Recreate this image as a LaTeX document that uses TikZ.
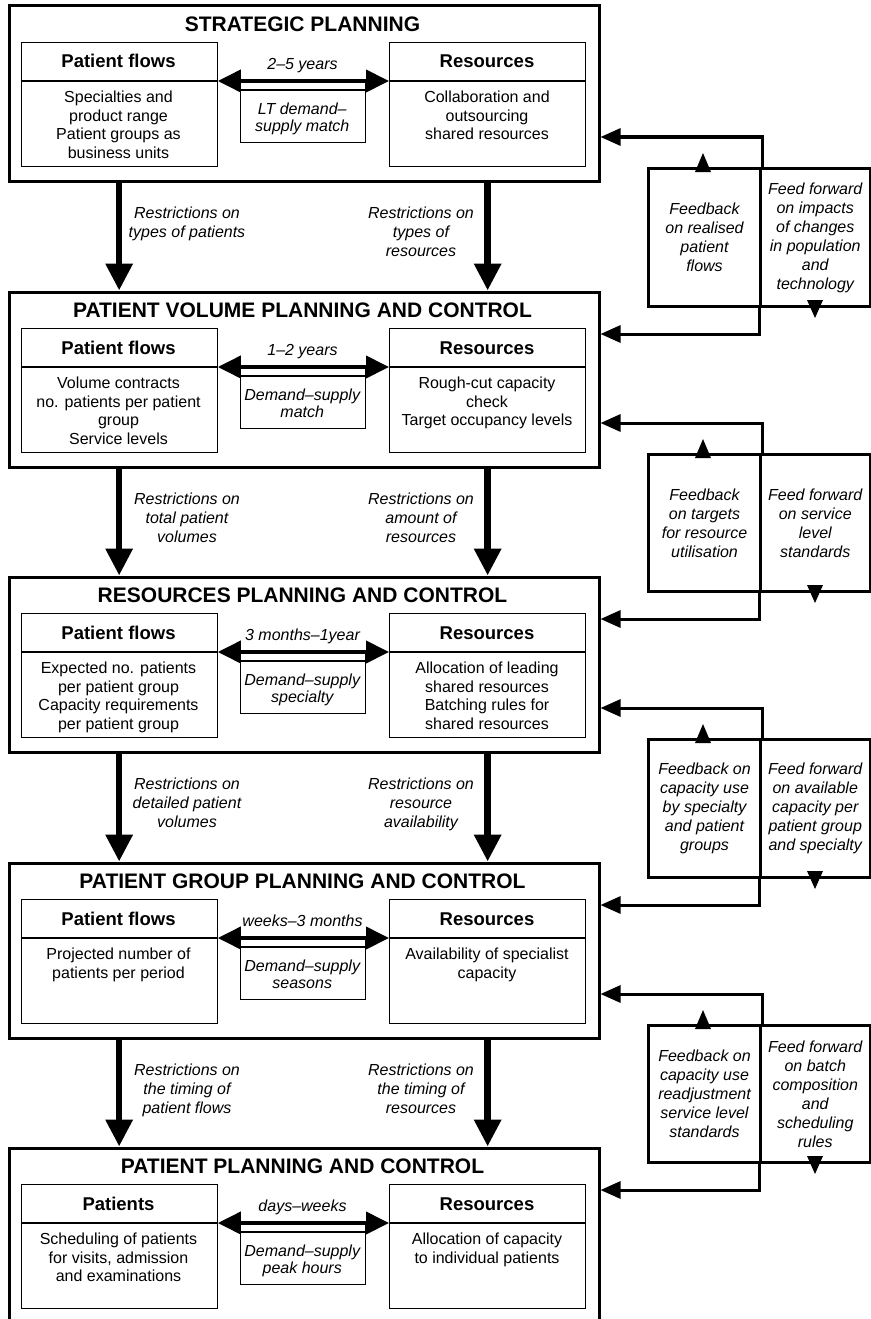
\documentclass[tikz,border=0pt]{standalone}
\usepackage{fontspec}
\setmainfont{Liberation Sans}
\usetikzlibrary{arrows.meta}

\tikzset{
  outerbox/.style={draw, line width=3pt, inner sep=0pt, anchor=north west},
  innerbox/.style={draw, line width=1.3pt, inner sep=0pt, anchor=north west},
  sepline/.style={line width=1.3pt},
  titletext/.style={font=\fontsize{21}{24}\selectfont\bfseries, anchor=base, inner sep=0pt},
  headtext/.style={font=\fontsize{18.5}{22}\selectfont\bfseries, anchor=base, inner sep=0pt},
  bodytext/.style={font=\fontsize{16}{18.5}\selectfont, align=center, anchor=north, inner sep=0pt,
    execute at begin node={\rule{0pt}{12pt}}},
  midtext/.style={font=\fontsize{16}{17.5}\selectfont\itshape, align=center, anchor=north, inner sep=0pt,
    execute at begin node={\rule{0pt}{12pt}}},
  periodtext/.style={font=\fontsize{16}{19}\selectfont\itshape, anchor=base, inner sep=0pt},
  lbl/.style={font=\fontsize{16}{19}\selectfont\itshape, align=center, anchor=north, inner sep=0pt,
    execute at begin node={\rule{0pt}{12pt}}},
  span/.style={line width=4pt, {Triangle[length=23pt,width=22pt]}-{Triangle[length=23pt,width=22pt]}},
  downarrow/.style={line width=6.5pt, -{Triangle[length=27pt,width=26pt]}},
  fbbox/.style={draw, line width=3pt, inner sep=0pt, anchor=north west, align=center,
    font=\fontsize{16}{19}\selectfont\itshape},
  fbarrow/.style={line width=3pt, -{Triangle[length=20pt,width=17pt]}},
}

% One planning level: #1 name, #2 top, #3 title, #4 left header,
% #5 left body, #6 right body, #7 horizon, #8 demand-supply text
\newcommand{\plevel}[8]{%
  \begin{scope}[shift={(0,#2)}]
    \node[outerbox, minimum width=590pt, minimum height=\lvlh pt] (#1) at (7.5,0.5) {};
    \node[titletext] (#1-title) at (302.5,27.5) {#3};
    \node[innerbox, minimum width=196pt, minimum height=124pt] (#1-pf) at (20.5,38) {};
    \node[innerbox, minimum width=196pt, minimum height=124pt] (#1-rs) at (389,38) {};
    \draw[sepline] (20.5,77) -- (216.5,77);
    \draw[sepline] (389,77) -- (585,77);
    \node[headtext] (#1-pfh) at (118.5,64) {#4};
    \node[headtext] (#1-rsh) at (487,64) {Resources};
    \node[bodytext] (#1-pfb) at (118.5,86.8) {#5};
    \node[bodytext] (#1-rsb) at (487,86.8) {#6};
    \node[innerbox, minimum width=124.5pt, minimum height=61pt] (#1-mid) at (240,77) {};
    \draw[sepline] (240,86) -- (364.5,86);
    \node[midtext] (#1-midt) at (302.25,98.5) {#8};
    \node[periodtext] (#1-per) at (302.5,65.3) {#7};
    \draw[span] (#1-pf.east |- #1-mid.north) -- (#1-rs.west |- #1-mid.north);
  \end{scope}}

% Feedback / feed-forward pair: #1 name, #2 top, #3 height, #4 feedback text, #5 feed-forward text
\newcommand{\fbgroup}[5]{%
  \node[fbbox, minimum width=112pt, minimum height=#3pt] (#1-fb) at (647,#2) {#4};
  \node[fbbox, minimum width=109.5pt, minimum height=#3pt] (#1-ff) at (759,#2) {#5};
  \fill (703,#2-14) -- (711,#2+5) -- (695,#2+5) -- cycle;
  \fill (815,#2+#3+13) -- (807,#2+#3-5) -- (823,#2+#3-5) -- cycle;}

\begin{document}
\begin{tikzpicture}[x=1pt, y=-1pt, line join=miter]
\fill[white] (0,0) rectangle (870,1319);
\useasboundingbox (0,0) rectangle (870,1319);

\def\lvlh{175}
\plevel{L1}{4}{STRATEGIC PLANNING}{Patient flows}
  {Specialties and\\product range\\Patient groups as\\business units}
  {Collaboration and\\outsourcing\\shared resources}
  {2–5 years}{LT demand–\\supply match}
\plevel{L2}{290}{PATIENT VOLUME PLANNING AND CONTROL}{Patient flows}
  {Volume contracts\\no. patients per patient\\group\\Service levels}
  {Rough-cut capacity\\check\\Target occupancy levels}
  {1–2 years}{Demand–supply\\match}
\plevel{L3}{575}{RESOURCES PLANNING AND CONTROL}{Patient flows}
  {Expected no. patients\\per patient group\\Capacity requirements\\per patient group}
  {Allocation of leading\\shared resources\\Batching rules for\\shared resources}
  {3 months–1year}{Demand–supply\\specialty}
\plevel{L4}{861}{PATIENT GROUP PLANNING AND CONTROL}{Patient flows}
  {Projected number of\\patients per period}
  {Availability of specialist\\capacity}
  {weeks–3 months}{Demand–supply\\seasons}
\def\lvlh{200}
\plevel{L5}{1146}{PATIENT PLANNING AND CONTROL}{Patients}
  {Scheduling of patients\\for visits, admission\\and examinations}
  {Allocation of capacity\\to individual patients}
  {days–weeks}{Demand–supply\\peak hours}

% Restrictions passed down between levels
\foreach \a/\b in {L1/L2, L2/L3, L3/L4, L4/L5} {
  \draw[downarrow] (\a.south -| \a-pf.center) -- (\b.north -| \a-pf.center);
  \draw[downarrow] (\a.south -| \a-rs.center) -- (\b.north -| \a-rs.center);
}
\node[lbl] (r1a) at (187,206.8) {Restrictions on\\types of patients};
\node[lbl] (r1b) at (421,206.8) {Restrictions on\\types of\\resources};
\node[lbl] (r2a) at (187,492.8) {Restrictions on\\total patient\\volumes};
\node[lbl] (r2b) at (421,492.8) {Restrictions on\\amount of\\resources};
\node[lbl] (r3a) at (187,777.8) {Restrictions on\\detailed patient\\volumes};
\node[lbl] (r3b) at (421,777.8) {Restrictions on\\resource\\availability};
\node[lbl] (r4a) at (187,1063.8) {Restrictions on\\the timing of\\patient flows};
\node[lbl] (r4b) at (421,1063.8) {Restrictions on\\the timing of\\resources};

% Feedback and feed-forward loops
\fbgroup{G1}{167}{138}{Feedback\\on realised\\patient\\flows}
  {Feed forward\\on impacts\\of changes\\in population\\and\\technology}
\fbgroup{G2}{453}{137}{Feedback\\on targets\\for resource\\utilisation}
  {Feed forward\\on service\\level\\standards}
\fbgroup{G3}{738}{138}{Feedback on\\capacity use\\by specialty\\and patient\\groups}
  {Feed forward\\on available\\capacity per\\patient group\\and specialty}
\fbgroup{G4}{1024}{137}{Feedback on\\capacity use\\readjustment\\service level\\standards}
  {Feed forward\\on batch\\composition\\and\\scheduling\\rules}

\draw[fbarrow] (G1-fb.north east) |- ([yshift=-132.5pt]L1.north east);
\draw[fbarrow] (G1-ff.south west) |- ([yshift=-43.5pt]L2.north east);
\draw[fbarrow] (G2-fb.north east) |- ([yshift=-132.5pt]L2.north east);
\draw[fbarrow] (G2-ff.south west) |- ([yshift=-43.5pt]L3.north east);
\draw[fbarrow] (G3-fb.north east) |- ([yshift=-132.5pt]L3.north east);
\draw[fbarrow] (G3-ff.south west) |- ([yshift=-43.5pt]L4.north east);
\draw[fbarrow] (G4-fb.north east) |- ([yshift=-132.5pt]L4.north east);
\draw[fbarrow] (G4-ff.south west) |- ([yshift=-43.5pt]L5.north east);
\end{tikzpicture}
\end{document}
